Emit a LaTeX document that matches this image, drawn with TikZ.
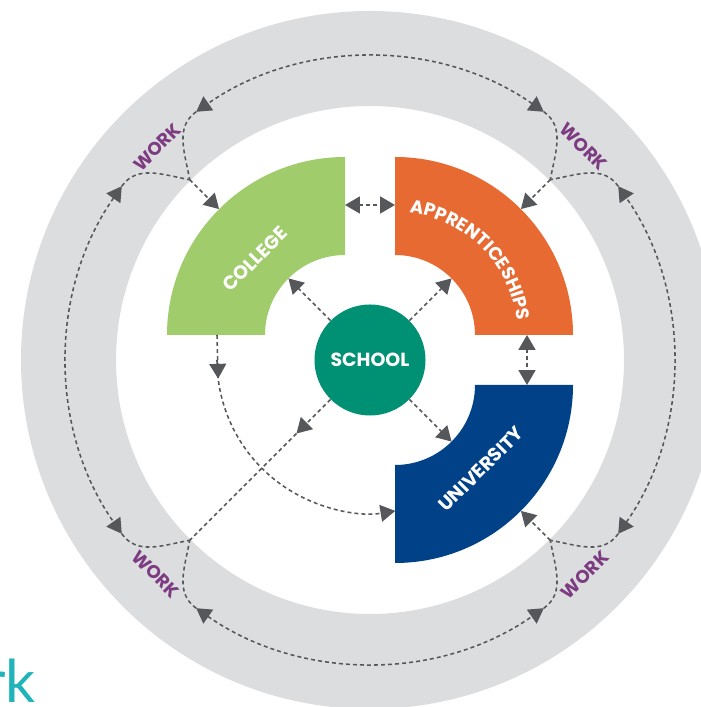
\documentclass[tikz,border=0pt]{standalone}
\usepackage{fontspec}
\setmainfont{Poppins}
\newfontfamily\lightfont{Lato}
\usetikzlibrary{arrows.meta}
\usetikzlibrary{decorations.text}

\definecolor{ringgray}{HTML}{DCDDDF}
\definecolor{flowgray}{HTML}{55575A}
\definecolor{collegegreen}{HTML}{A0CC6C}
\definecolor{approrange}{HTML}{E86A33}
\definecolor{uniblue}{HTML}{004187}
\definecolor{schoolteal}{HTML}{009073}
\definecolor{workpurple}{HTML}{7D3C82}
\definecolor{wordteal}{HTML}{1FB4B9}

\begin{document}
\begin{tikzpicture}[x=0.025cm, y=0.025cm]

\tikzstyle{flow}=[draw=flowgray, line width=1.1pt, dash pattern=on 2.8pt off 2.2pt]
\tikzstyle{flowto}=[flow, -{Triangle[length=10.5pt, width=12pt]}]
\tikzstyle{flowboth}=[flow, {Triangle[length=10.5pt, width=12pt]}-{Triangle[length=10.5pt, width=12pt]}]
\tikzstyle{work}=[text=workpurple, font=\bfseries\fontsize{13}{13}\selectfont, inner sep=0]
\tikzstyle{sector}=[text=white, font=\bfseries\fontsize{13.5}{13.5}\selectfont, inner sep=0]

\useasboundingbox (-370,-347) rectangle (330,360);

% gray ring
\fill[ringgray, even odd rule] (0,0) circle (349) (0,0) circle (254);

% the three quarter rings
\fill[collegegreen, shift={(-25,25)}] (90:178) arc (90:180:178) -- (180:80) arc (180:90:80) -- cycle;
\fill[approrange, shift={(25,25)}] (0:178) arc (0:90:178) -- (90:80) arc (90:0:80) -- cycle;
\fill[uniblue, shift={(25,-25)}] (-90:178) arc (-90:0:178) -- (0:80) arc (0:-90:80) -- cycle;

\node[sector, rotate=45] (college) at (-115,101) {COLLEGE};
\node[sector, rotate=45] (university) at (111,-109) {UNIVERSITY};
\path[shift={(25,25)}, decorate, decoration={text along path, text align=center,
  text={|\color{white}\bfseries\fontsize{13}{13}\selectfont|APPRENTICESHIPS}}]
  (90:123) arc (90:0:123);

\node[circle, fill=schoolteal, minimum size=2.775cm, inner sep=0, text=white,
  font=\bfseries\fontsize{13.5}{13.5}\selectfont] (school) at (0,0) {SCHOOL};

% points on the ring
\coordinate (jul) at (135:255);
\coordinate (jur) at (45:255);
\coordinate (jlr) at (-45:255);
\coordinate (jll) at (-135:255);
\coordinate (ul1) at (125:303);
\coordinate (ul2) at (145:303);
\coordinate (ur1) at (35:303);
\coordinate (ur2) at (55:303);
\coordinate (lr1) at (-55:303);
\coordinate (lr2) at (-35:303);
\coordinate (ll1) at (-145:303);
\coordinate (ll2) at (-125:303);

% points on the quarter rings
\coordinate (college-top) at (-150.9,150.9);
\coordinate (appr-top) at (150.9,150.9);
\coordinate (uni-top) at (150.9,-150.9);
\coordinate (college-in) at (-81.6,81.6);
\coordinate (appr-in) at (81.6,81.6);
\coordinate (uni-in) at (81.6,-81.6);
\coordinate (school-work) at (-135:104);
\coordinate (ca-l) at (-25,155);
\coordinate (ca-r) at (25,155);
\coordinate (au-t) at (157,25);
\coordinate (au-b) at (157,-25);
\coordinate (college-bot) at (-153,25);
\coordinate (arc-tip) at (187:153);
\coordinate (arc-start) at (180:153);

% work ring
\draw[flowboth] (ur2) arc (55:125:303);
\draw[flowboth] (ul2) arc (145:215:303);
\draw[flowboth] (ll2) arc (235:305:303);
\draw[flowboth] (lr2) arc (-35:35:303);

\draw[flow] (ul1) to[out=215, in=100] (jul);
\draw[flow] (ul2) to[out=55, in=170] (jul);
\draw[flow] (ur1) to[out=125, in=10] (jur);
\draw[flow] (ur2) to[out=-35, in=80] (jur);
\draw[flow] (lr1) to[out=35, in=280] (jlr);
\draw[flow] (lr2) to[out=235, in=350] (jlr);
\draw[flow] (ll1) to[out=305, in=190] (jll);
\draw[flow] (ll2) to[out=145, in=260] (jll);

\draw[flowto] (jul) -- (college-top);
\draw[flowto] (jur) -- (appr-top);
\draw[flowto] (jlr) -- (uni-top);

% from school
\draw[flowto] (school.135) -- (college-in);
\draw[flowto] (school.45) -- (appr-in);
\draw[flowto] (school.-45) -- (uni-in);
\draw[flowto] (school.-135) -- (school-work);
\draw[flow] (school-work) -- (jll);

% between the quarter rings
\draw[flowboth] (ca-l) -- (ca-r);
\draw[flowboth] (au-t) -- (au-b);
\draw[flowto] (college-bot) -- (arc-tip);
\draw[flowto] (arc-start) arc (180:279.5:153);

\node[work, rotate=45] (work-ul) at (135:301) {WORK};
\node[work, rotate=-45] (work-ur) at (45:302) {WORK};
\node[work, rotate=45] (work-lr) at (-45:304) {WORK};
\node[work, rotate=-45] (work-ll) at (-135:303) {WORK};

\node[anchor=base east, text=wordteal, font=\lightfont\fontsize{42}{42}\selectfont, inner sep=0] (rk) at (-334,-342) {rk};

\end{tikzpicture}
\end{document}
